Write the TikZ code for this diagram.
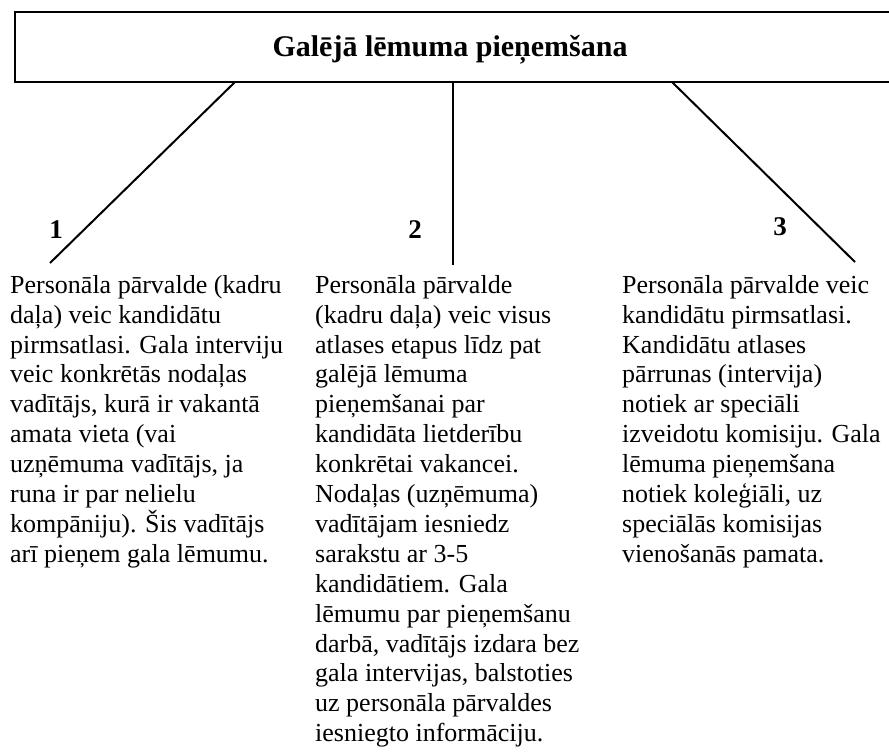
\documentclass[tikz,border=0pt]{standalone}
\usepackage{fontspec}
\setmainfont{Liberation Serif}
\begin{document}
\begin{tikzpicture}[x=1pt,y=-1pt,
  body/.style={anchor=north west,inner sep=0pt,align=left,font=\fontsize{26}{29.9}\selectfont},
  num/.style={inner sep=0pt,font=\fontsize{27}{30}\selectfont\bfseries},
  conn/.style={line width=2pt},
  hdr/.style={draw,line width=2.7pt,minimum width=885pt,minimum height=70pt,inner sep=0pt},
  ttl/.style={inner sep=0pt,anchor=base,font=\fontsize{30}{33}\selectfont\bfseries}]
\useasboundingbox (0,0) rectangle (889,752);
\clip (0,0) rectangle (889,752);
\node[hdr] (box) at (457.5,47) {};
\node[ttl] (title) at (450,57) {Galējā lēmuma pieņemšana};
\coordinate (s1) at (235,82);
\coordinate (s2) at (453,82);
\coordinate (s3) at (672,82);
\coordinate (e1) at (50,263);
\coordinate (e2) at (453,265);
\coordinate (e3) at (855,262);
\draw[conn] (s1) -- (e1);
\draw[conn] (s2) -- (e2);
\draw[conn] (s3) -- (e3);
\node[num] (n1) at (56,230) {1};
\node[num] (n2) at (415,230) {2};
\node[num] (n3) at (780,227) {3};
\node[body] (c1) at (10,275) {Personāla pārvalde (kadru\\
daļa) veic kandidātu\\
pirmsatlasi. Gala interviju\\
veic konkrētās nodaļas\\
vadītājs, kurā ir vakantā\\
amata vieta (vai\\
uzņēmuma vadītājs, ja\\
runa ir par nelielu\\
kompāniju). Šis vadītājs\\
arī pieņem gala lēmumu.};
\node[body] (c2) at (315,275) {Personāla pārvalde\\
(kadru daļa) veic visus\\
atlases etapus līdz pat\\
galējā lēmuma\\
pieņemšanai par\\
kandidāta lietderību\\
konkrētai vakancei.\\
Nodaļas (uzņēmuma)\\
vadītājam iesniedz\\
sarakstu ar 3-5\\
kandidātiem. Gala\\
lēmumu par pieņemšanu\\
darbā, vadītājs izdara bez\\
gala intervijas, balstoties\\
uz personāla pārvaldes\\
iesniegto informāciju.};
\node[body] (c3) at (622,275) {Personāla pārvalde veic\\
kandidātu pirmsatlasi.\\
Kandidātu atlases\\
pārrunas (intervija)\\
notiek ar speciāli\\
izveidotu komisiju. Gala\\
lēmuma pieņemšana\\
notiek koleģiāli, uz\\
speciālās komisijas\\
vienošanās pamata.};
\end{tikzpicture}
\end{document}
